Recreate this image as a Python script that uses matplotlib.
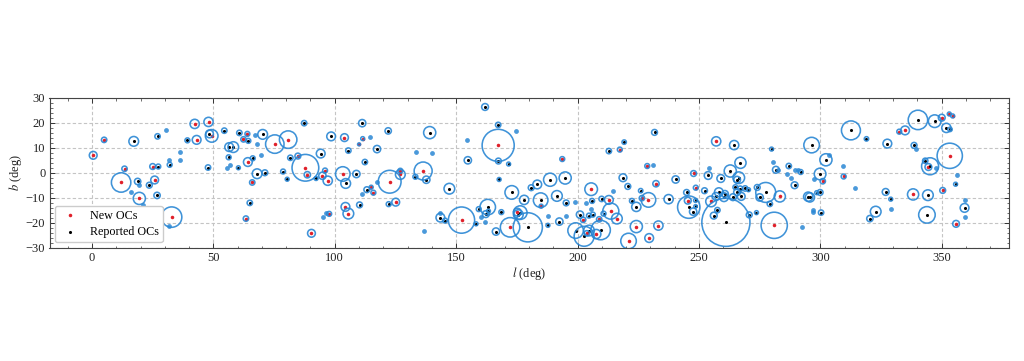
import numpy as np
import matplotlib
matplotlib.use("Agg")
import matplotlib.pyplot as plt
from matplotlib.ticker import MultipleLocator

# new OCs: l, b, angular radius (deg)
new_l = [0.5, 5, 13.4, 12, 19.5, 25, 25.8, 32.8, 42.3, 43.1, 48, 49.3, 62.4, 64, 64.2, 66, 63.4,
         75.3, 80.8, 87.9, 88.7, 84.8, 90.4, 94.9, 96, 97.1, 97.7, 104, 103.3, 104.4, 105.6,
         110, 111.5, 115.9, 122.6, 125.1, 127, 127, 136.4, 152.2, 167.3, 175.2, 172.2, 115,
         193.7, 205.6, 217.4, 212.9, 213.7, 216.2, 207.7, 202.3, 208.9, 203.8, 224.2, 221,
         229.5, 233.3, 229.2, 228.7, 232.3, 226.5, 245.4, 247.8, 248.7, 257.1, 255, 283.3, 281,
         185, 301, 309.6, 332.5, 334.9, 338.2, 344.5, 350.4, 350, 353.1, 354.5, 353.3, 355.9]
new_b = [7, 13.2, 1.6, -3.9, -10.3, 2.5, -2.9, -17.8, 19.6, 13.2, 20.4, 14.8, 13.4, 15.6, 4.3, -3.9, -18.4,
         11.5, 13.3, 2, -0.8, 6.7, -24.3, -1.2, 0.9, -3.2, -16.5, 14.1, -0.5, -13.7, -16.4,
         11.4, 13.7, -8, -3.6, -11.8, -0.7, 0.8, 0.7, -19, 11, -15.8, -21.9, -5.8,
         5.5, -6.6, 9.3, -10.9, -15.4, -18.4, -24.6, -18.9, -18.7, -24.3, -21.6, -27.4,
         -26.2, -21.2, -10.9, 2.7, -4.4, -10.2, -11.2, -0.3, -6, 12.6, -11.5, -9.5, -21.1,
         -13.4, -3.4, -1.5, 16.5, 17, -8.7, 2.3, -7.1, 22.1, 23.6, 22.8, 6.8, -20.5]
new_r = [1.6, 1.1, 1.1, 4, 2.5, 1.2, 1.6, 4.2, 1.9, 1.8, 1.9, 2.6, 1.1, 1, 1.8, 1.1, 1.1,
         3.8, 3.6, 5.5, 1.3, 1.2, 1.6, 1.5, 1, 1.9, 1, 1.6, 3, 1.8, 2.2,
         0.6, 0.8, 1, 4.7, 1.6, 2, 1, 3.7, 5.4, 6.6, 1.6, 4, 0.8,
         1, 2.6, 1, 1.8, 3.3, 2.2, 1.9, 1.1, 1.1, 1.1, 2.5, 3.2,
         1.8, 1.9, 3, 1, 1.3, 1.1, 1.4, 1.2, 1, 1.9, 2.2, 2.3, 5.4,
         0.8, 1.1, 1, 1, 1.8, 2.3, 1.4, 1.2, 1.4, 0.8, 0.8, 5.2, 1.4]

# reported OCs: l, b, angular radius (deg)
rep_l = [17.2, 18.8, 23.6, 27, 27.3, 26.8, 32, 39.3, 47.8, 48.4, 54.5, 56.3, 56.5, 58.2, 60.7, 60.3,
         64.4, 66.2, 65, 68, 71.2, 70.3, 78.7, 80.4, 81.7, 87.4, 94.2, 98.5, 92.3, 104.5, 105.6,
         108.9, 110.2, 111.3, 112.4, 113.2, 117.4, 122, 122.2, 133.2, 137.7, 139.1, 147.2, 143.5,
         145.4, 154.8, 158.2, 159.3, 163, 162.2, 163.3, 161.9, 167.3, 167.4, 171.6, 167.7, 168.6,
         166.4, 172.9, 178, 176.4, 175.6, 179.5, 183.4, 180.9, 188.7, 194.9, 191.5, 195.3, 192.5,
         187.8, 184.8, 199.2, 202.7, 209.5, 204.7, 201, 204.7, 206.3, 206, 209.9, 210.7, 212.9,
         219.2, 218.7, 220.7, 222.4, 224.2, 226, 231.7, 240.4, 237.5, 244.9, 245.8, 247.6, 248.6,
         248.6, 252.3, 253.8, 259, 264.5, 262.9, 267.1, 266.4, 265.7, 257, 258.2, 260.3, 260.7,
         264, 265, 267.4, 265.7, 267, 269, 270.4, 257.6, 256.1, 261.1, 270.7, 273.7, 274, 275,
         277.5, 279.2, 279.9, 281.7, 287, 291.9, 289.4, 296.4, 295.7, 295, 299.9, 299.9, 298.5,
         300.3, 302.3, 312.6, 319, 327.6, 326.9, 322.8, 320.4, 329, 338.6, 340.2, 347.1, 343.2,
         345.2, 344.3, 343.9, 351.9, 353.4, 355.7, 359.4]
rep_b = [12.6, -3.5, -5, 14.6, 2.5, -9.1, 3.2, 13, 2.1, 15.6, 16.9, 6.2, 10.3, 10.3, 16, 2,
         12.8, 5.8, -12.1, -0.4, 0, 15.4, 0.5, -2.6, 6, 19.9, 7.7, 14.6, -2.3, -4.3, 8.9,
         -0.5, -12.9, 19.9, 4.3, -6.8, 9.5, 16.8, -12.6, -1.6, -2.8, 16.1, -6.4, -18,
         -19.2, 5, -20.5, -14.6, -13.8, -16.6, -15.4, 26.4, 19.2, 4.7, 3.5, -2.7, -15.8,
         -23.6, -7.9, -10.9, -16, -16.8, -21.9, -4.7, -6, -2.8, -2.1, -9.3, -12.1, -19.6,
         -21.1, -11, -23.2, -25.5, -23, -23.2, -16.8, -17.2, -16.8, -11.3, -10.5, -16.4, 8.7,
         12.3, -2, -5.5, -11.3, -13.7, -7.2, 16.2, -2.7, -10.6, -7.9, -13.8, -15.6, -11.1,
         -13.5, -7.2, -1.1, -2.3, 11.1, 0.7, 4, -2, -2.8, -9.5, -7.8, -9.8, -8.5,
         -9.8, -5.8, -9.5, -7.8, -6.4, -6.3, -6.8, -15, -17.2, -19.9, -16.9, -16, -5.9, -9.9,
         -7.9, -12.5, 9.5, 1.2, 2.7, 0.3, -5, 11.1, -9.9, -9.6, -0.5, -7.9, -8,
         -16, 5.2, 17, 13.6, 11.7, -7.7, -15.6, -18.4, -10.6, 11, 21.2, 20.7, 4.8,
         2.6, -9, -16.9, 18, 17.4, -4.6, -14.1]
rep_r = [2, 1.3, 1.2, 1.1, 1, 1.3, 1, 1, 1.1, 1.6, 1.1, 1, 1.8, 2.2, 1.1, 0.8,
         1, 1, 1.1, 2, 1.2, 2, 1, 0.8, 1.1, 1.1, 1.8, 1.8, 0.8, 2, 1.1,
         1.5, 1.2, 1.5, 1.1, 1.2, 1.5, 1.3, 1, 1, 1.5, 2.5, 2.2, 1.8,
         1, 1.5, 0.8, 1, 3.2, 1.4, 0.8, 1.4, 1.1, 1.2, 0.8, 0.8, 1,
         1.5, 2.8, 1.9, 2.8, 2, 6, 1.8, 1.2, 2.7, 2.5, 2.2, 1.2, 1.5,
         0.8, 3, 3.2, 4.1, 4, 2.2, 1.5, 1, 1, 1, 1.1, 1, 1.1,
         0.9, 1.6, 1.2, 1, 1.9, 0.9, 1.2, 1.5, 1.9, 1.2, 4.6, 1.5, 0.8,
         0.7, 1.2, 1.6, 1.6, 1.9, 2.5, 2.3, 2.4, 1.4, 1.6, 1.8, 1.8, 1.4,
         1.4, 1, 1.6, 1.4, 1.1, 1.1, 0.8, 1.1, 1.4, 9.9, 1.2, 0.8, 1.2, 1.5,
         4.1, 1.1, 0.8, 1.4, 1.1, 1, 1.4, 3.2, 1.9, 1.9, 2.4, 1.2, 0.8,
         1.1, 2.5, 3.9, 0.9, 1.8, 1.4, 2.2, 1.3, 0.8, 1.2, 4, 2.6, 1.1,
         3.5, 2.2, 3.4, 1.9, 0.9, 0.8, 1.8]

# tiny clusters where only the blue ring shows
tiny_l = [30.6, 31.6, 36.2, 36.4, 16, 19.4, 21, 31.8, 55.7, 57, 67, 68, 69.6,
          154.6, 114.4, 133.4, 140.2, 174.7, 117.4, 111.4, 96.3, 95.3, 136.8, 143.5, 162, 160.1,
          188, 195.3, 198.8, 203.3, 205.4, 214.5, 230.9, 254.2, 280.6, 282.6,
          297, 297.1, 292.3, 286.4, 287.9, 289.4, 290.9, 297.3, 303.6, 309.2, 314.1, 329,
          339.5, 347.8, 356.4, 359.4, 359.7]
tiny_b = [17.2, 5.1, 8.3, 5.2, -7.9, -5.1, -12.9, -21.2, 2, 3.1, 15.3, 11.7, 7.1,
          13.3, 14.4, 8.5, 7.9, 16.8, -3.6, -8.6, -16.2, -17.9, -23.4, -16, -19.6, -17.9,
          -17.2, -17.2, -11.7, -12.3, -14.4, -7.4, 3.1, 2.1, 4.4, 1.1,
          -14.9, -15.8, -21.6, -0.5, -2, 1.3, 1.3, -2.4, 7.1, 2.8, -6.2, -14.6,
          9.5, 2, -0.8, -10.9, -17.9]

BLUE = "#2a87d4"
PX_PER_DEG = 2.4286  # on-screen scale of the l axis


def ring_size(r):
    # scatter area (pt^2) for a ring of angular radius r
    return (2 * np.asarray(r) * PX_PER_DEG * 0.72) ** 2


def main():
    plt.rcParams["font.family"] = "Liberation Serif"
    plt.rcParams["mathtext.fontset"] = "stix"
    plt.rcParams["font.size"] = 9

    fig = plt.figure(figsize=(10.24, 3.61), dpi=100)
    ax = fig.add_axes([49.5 / 1024, 1 - 247.5 / 361, (1008.5 - 49.5) / 1024, 149.5 / 361])

    ax.scatter(new_l, new_b, s=6.5, marker="o", color="#e0202a", linewidths=0, zorder=2, label="New OCs")
    ax.scatter(rep_l, rep_b, s=5, marker="o", color="black", linewidths=0, zorder=2, label="Reported OCs")
    ax.scatter(new_l + rep_l, new_b + rep_b, s=ring_size(new_r + rep_r), facecolors="none",
               edgecolors=BLUE, linewidths=1.15, alpha=0.9, zorder=3)
    ax.scatter(tiny_l, tiny_b, s=12, color=BLUE, linewidths=0, alpha=0.85, zorder=3)

    ax.set_xlim(-17.5, 377.5)
    ax.set_ylim(-30, 30)
    ax.xaxis.set_major_locator(MultipleLocator(50))
    ax.xaxis.set_minor_locator(MultipleLocator(10))
    ax.yaxis.set_major_locator(MultipleLocator(10))
    ax.yaxis.set_minor_locator(MultipleLocator(2))
    ax.tick_params(which="both", direction="in", top=True, right=True, color="#333333", labelcolor="#222222")
    ax.tick_params(which="major", length=3.5, width=0.7, labelsize=9, pad=3)
    ax.tick_params(which="minor", length=1.8, width=0.5)
    ax.grid(True, which="major", linestyle=(0, (3, 2)), color="#c4c4c4", linewidth=0.8)
    ax.set_axisbelow(True)
    for spine in ax.spines.values():
        spine.set_linewidth(0.8)
        spine.set_color("#444444")

    ax.set_xlabel(r"$l$ (deg)", fontsize=9, labelpad=1, color="#222222")
    ax.set_ylabel(r"$b$ (deg)", fontsize=9, labelpad=1, color="#222222")

    leg = ax.legend(loc="lower left", frameon=True, fontsize=8.7, borderpad=0.33, labelspacing=0.36,
                    handlelength=1.85, handletextpad=0.7,
                    bbox_to_anchor=(0.0057, 0.037), borderaxespad=0, fancybox=True, framealpha=1)
    leg.get_frame().set_edgecolor("#cccccc")
    leg.set_zorder(5)

    fig.savefig("out.png", dpi=100, facecolor="white")
    plt.close(fig)


if __name__ == "__main__":
    main()
